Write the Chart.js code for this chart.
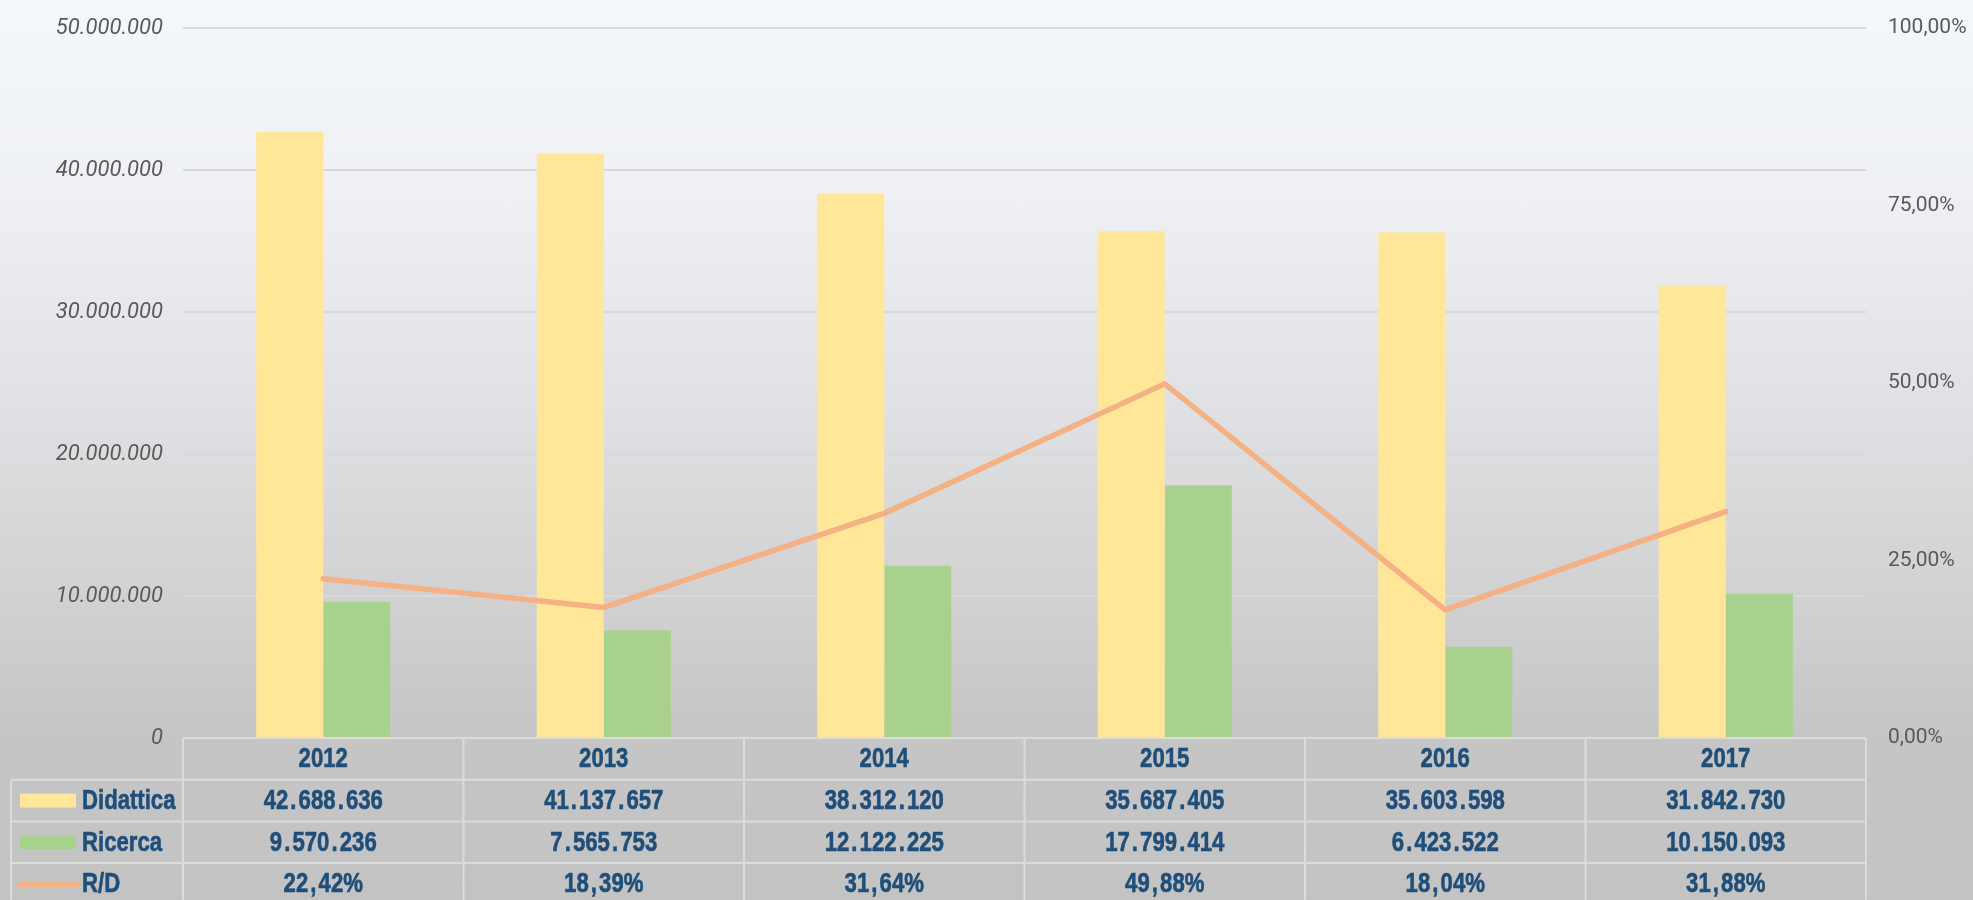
<!DOCTYPE html>
<html><head><meta charset="utf-8">
<script src="https://cdn.jsdelivr.net/npm/chart.js@4.4.0/dist/chart.umd.min.js"></script>
<style>
html,body{margin:0;padding:0;width:1973px;height:900px;overflow:hidden;}
body{background:linear-gradient(to bottom,#f5f8fb 0%,#eef0f4 22%,#e0e1e4 45%,#d0d0d1 68%,#c5c5c5 82%,#c3c3c3 100%);}
#wrap{position:absolute;left:0;top:0;width:1973px;height:900px;}
</style></head><body><div id="wrap"><canvas id="c" width="1973" height="900"></canvas></div>
<script>
const categories = ['2012', '2013', '2014', '2015', '2016', '2017'];
const didattica = [42688636, 41137657, 38312120, 35687405, 35603598, 31842730];
const ricerca = [9570236, 7565753, 12122225, 17799414, 6423522, 10150093];
const rdRatio = [0.2242, 0.1839, 0.3164, 0.4988, 0.1804, 0.3188];
const seriesNames = ['Didattica', 'Ricerca', 'R/D'];

const fmtInt = v => String(Math.round(v)).replace(/\B(?=(\d{3})+(?!\d))/g, '.');
const fmtPct = v => (v * 100).toFixed(2).replace('.', ',') + '%';

const COL_Y = '#ffe699', COL_G = '#a9d18e', COL_L = '#f4b183';
const TXT = '#1f4e79';

const tablePlugin = {
  id: 'dataTable',
  afterDraw(chart) {
    const ctx = chart.ctx, xs = chart.scales.x, area = chart.chartArea;
    const n = categories.length;
    const colW = (xs.getPixelForValue(1) - xs.getPixelForValue(0));
    const left0 = xs.getPixelForValue(0) - colW / 2;
    const right = xs.getPixelForValue(n - 1) + colW / 2;
    const top = area.bottom;
    const rowH = 41.7;
    const legLeft = 11;
    ctx.save();
    ctx.strokeStyle = '#dcdcdc';
    ctx.lineWidth = 2;
    ctx.beginPath();
    ctx.moveTo(left0, top); ctx.lineTo(right, top);
    for (let r = 1; r <= 4; r++) {
      ctx.moveTo(legLeft, top + r * rowH); ctx.lineTo(right, top + r * rowH);
    }
    for (let i = 0; i <= n; i++) {
      const x = left0 + i * colW;
      ctx.moveTo(x, top); ctx.lineTo(x, 900);
    }
    ctx.moveTo(legLeft, top + rowH); ctx.lineTo(legLeft, 900);
    ctx.stroke();

    const SX = 0.82, EXTRA = 4.2;
    const drawText = (t, x, y, align) => {
      ctx.save();
      ctx.font = "bold 27px 'Liberation Sans', Arial, sans-serif";
      ctx.textBaseline = 'middle';
      ctx.textAlign = 'left';
      const chars = Array.from(t);
      const ws = chars.map(c => ctx.measureText(c).width * SX + ((c === '.' || c === ',') ? EXTRA : 0));
      const total = ws.reduce((a, b) => a + b, 0);
      let cx = align === 'center' ? x - total / 2 : x;
      ctx.fillStyle = TXT; ctx.strokeStyle = TXT; ctx.lineWidth = 0.6;
      chars.forEach((c, k) => {
        const off = (c === '.' || c === ',') ? EXTRA / 2 : 0;
        ctx.save();
        ctx.translate(cx + off, y);
        ctx.scale(SX, 1);
        ctx.fillText(c, 0, 0);
        ctx.strokeText(c, 0, 0);
        ctx.restore();
        cx += ws[k];
      });
      ctx.restore();
    };
    const rowsData = [didattica.map(fmtInt), ricerca.map(fmtInt), rdRatio.map(fmtPct)];
    for (let i = 0; i < n; i++) {
      const cx = xs.getPixelForValue(i);
      drawText(categories[i], cx, top + rowH * 0.5 + 1, 'center');
      for (let r = 0; r < 3; r++) {
        drawText(rowsData[r][i], cx, top + rowH * (r + 1.5) + 1, 'center');
      }
    }
    const ds = chart.data.datasets;
    const keyL = 20, keyW = 56;
    for (let r = 0; r < 3; r++) {
      const cy = top + rowH * (r + 1.5);
      const d = ds.find(q => q.label === seriesNames[r]);
      if (d.type === 'line') {
        ctx.save();
        ctx.strokeStyle = d.borderColor; ctx.lineWidth = 6; ctx.lineCap = 'round';
        ctx.beginPath(); ctx.moveTo(keyL, cy); ctx.lineTo(keyL + keyW, cy); ctx.stroke();
        ctx.restore();
      } else {
        ctx.fillStyle = d.backgroundColor;
        ctx.fillRect(keyL, cy - 7, keyW, 14);
      }
      drawText(seriesNames[r], 82, cy + 1, 'left');
    }
    ctx.restore();
  }
};

new Chart(document.getElementById('c'), {
  data: {
    labels: categories,
    datasets: [
      { type: 'line', label: seriesNames[2], data: rdRatio, yAxisID: 'y1', borderColor: COL_L, backgroundColor: COL_L,
        borderWidth: 5.5, pointRadius: 0, tension: 0, order: 0, borderJoinStyle: 'miter', borderCapStyle: 'round' },
      { type: 'bar', label: seriesNames[0], data: didattica, yAxisID: 'y', backgroundColor: COL_Y, order: 1,
        categoryPercentage: 0.478, barPercentage: 1 },
      { type: 'bar', label: seriesNames[1], data: ricerca, yAxisID: 'y', backgroundColor: COL_G, order: 1,
        categoryPercentage: 0.478, barPercentage: 1 }
    ]
  },
  options: {
    responsive: false, animation: false, devicePixelRatio: 1,
    layout: { padding: { top: 28, left: 0, right: 0, bottom: 0 } },
    plugins: { legend: { display: false }, tooltip: { enabled: false } },
    scales: {
      x: {
        display: true, grid: { display: false }, border: { display: false },
        ticks: { display: false },
        afterFit(s) { s.height = 162; s.paddingLeft = 0; s.paddingRight = 0; }
      },
      y: {
        position: 'left', min: 0, max: 50000000,
        ticks: { stepSize: 10000000, padding: 20, color: '#595959',
          font: { family: 'Roboto', size: 22, style: 'italic', weight: 400 },
          callback: v => fmtInt(v) },
        grid: { color: '#d9d9d9', lineWidth: 2, drawTicks: false },
        border: { display: false },
        afterFit(s) { s.width = 183; s.paddingTop = 0; s.paddingBottom = 0; }
      },
      y1: {
        position: 'right', min: 0, max: 1,
        ticks: { stepSize: 0.25, padding: 22, color: '#595959',
          font: { family: 'Roboto', size: 21, weight: 400 },
          callback: v => fmtPct(v) },
        grid: { display: false, drawTicks: false },
        border: { display: false },
        afterFit(s) { s.width = 107; s.paddingTop = 0; s.paddingBottom = 0; }
      }
    }
  },
  plugins: [tablePlugin]
});
</script></body></html>
